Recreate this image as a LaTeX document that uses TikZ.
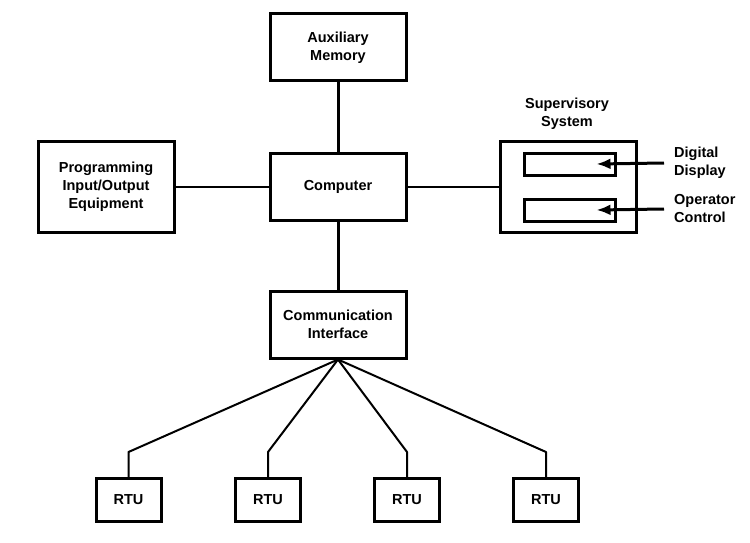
\documentclass[tikz,border=0pt]{standalone}
\usepackage{fontspec}
\setmainfont{Liberation Sans}
\usetikzlibrary{arrows.meta}
\tikzset{
  block/.style   = {shape=rectangle, draw, line width=3pt, align=center,
                    minimum width=136pt, minimum height=67pt,
                    font=\bfseries\fontsize{14.5}{18}\selectfont},
  rtu/.style     = {block, minimum width=65pt, minimum height=43pt},
  panel/.style   = {shape=rectangle, draw, line width=3pt,
                    minimum width=91pt, minimum height=22pt},
  tag/.style     = {align=left, inner sep=0pt,
                    font=\bfseries\fontsize{14.5}{18}\selectfont},
  bus/.style     = {line width=3pt},
  link/.style    = {line width=2pt},
  feed/.style    = {line width=3pt, -{Latex[length=14pt,width=11pt]}}
}
\begin{document}
\begin{tikzpicture}[x=1pt, y=-1pt]
  \useasboundingbox (0,0) rectangle (750,543);

  % central column
  \node [block] (aux)  at (338,47.5)  {Auxiliary\\Memory};
  \node [block] (comp) at (338,186.5) {Computer};
  \node [block] (comm) at (338,324.5) {Communication\\Interface};

  % side blocks
  \node [block, minimum height=91pt] (prog) at (106,186.5)
        {Programming\\Input/Output\\Equipment};
  \node [block, minimum height=91pt] (sup)  at (568.5,186.5) {};
  \node [tag, align=center] (suplbl) at (567,114) {Supervisory\\System};
  \node [panel] (disp) at (569.5,164) {};
  \node [panel] (ctrl) at (569.5,210) {};

  \node [tag, anchor=west, inner xsep=10pt] (disptag) at (664,163) {Digital\\Display};
  \node [tag, anchor=west, inner xsep=10pt] (ctrltag) at (664,209) {Operator\\Control};

  % remote terminal units
  \foreach \i/\x in {1/128.5, 2/268, 3/407, 4/546}
    \node [rtu] (rtu\i) at (\x,500) {RTU};

  % connections
  \draw [bus]  (aux)  -- (comp);
  \draw [bus]  (comp) -- (comm);
  \draw [link] (prog) -- (comp);
  \draw [link] (comp) -- (sup);
  \draw [feed] (disptag.west) -- ([xshift=-20pt]disp.east);
  \draw [feed] (ctrltag.west) -- ([xshift=-20pt]ctrl.east);
  \foreach \i in {1,...,4}
    \draw [link, line join=round] (comm.south) -- ([yshift=25pt]rtu\i.north) -- (rtu\i.north);

\end{tikzpicture}
\end{document}
